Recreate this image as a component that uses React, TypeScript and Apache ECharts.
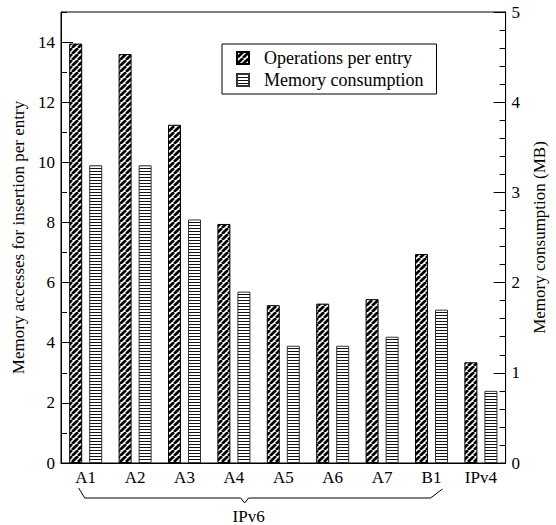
import React, { useEffect, useRef } from "react";
import * as echarts from "echarts";

const categories = ["A1", "A2", "A3", "A4", "A5", "A6", "A7", "B1", "IPv4"];
const operationsPerEntry = [13.95, 13.6, 11.25, 7.95, 5.25, 5.3, 5.45, 6.95, 3.35];
const memoryConsumptionMB = [3.3, 3.3, 2.7, 1.9, 1.3, 1.3, 1.4, 1.7, 0.8];
const groupLabel = "IPv6";
const groupFirst = "A1";
const groupLast = "B1";

const FONT = "'Liberation Serif', 'Times New Roman', Times, 'DejaVu Serif', serif";

function diagPattern(): HTMLCanvasElement {
  const c = document.createElement("canvas");
  const s = 6;
  c.width = s;
  c.height = s;
  const ctx = c.getContext("2d")!;
  ctx.fillStyle = "#fff";
  ctx.fillRect(0, 0, s, s);
  ctx.strokeStyle = "#000";
  ctx.lineWidth = 2.7;
  for (const o of [-s, 0, s]) {
    ctx.beginPath();
    ctx.moveTo(o, s);
    ctx.lineTo(o + s, 0);
    ctx.stroke();
  }
  return c;
}

function horizPattern(): HTMLCanvasElement {
  const c = document.createElement("canvas");
  c.width = 4;
  c.height = 3;
  const ctx = c.getContext("2d")!;
  ctx.fillStyle = "#fff";
  ctx.fillRect(0, 0, 4, 3);
  ctx.fillStyle = "#111";
  ctx.fillRect(0, 0, 4, 1);
  return c;
}

export default function App() {
  const ref = useRef<HTMLDivElement>(null);
  useEffect(() => {
    if (!ref.current) return;
    const chart = echarts.init(ref.current, undefined, { renderer: "svg" });
    const diag = { image: diagPattern(), repeat: "repeat" };
    const horiz = { image: horizPattern(), repeat: "repeat" };
    const lineStyle = { color: "#000", width: 1 };
    chart.setOption({
      animation: false,
      backgroundColor: "#fff",
      textStyle: { fontFamily: FONT },
      grid: {
        left: 61,
        right: 44,
        top: 12,
        bottom: 62,
        show: true,
        borderColor: "#000",
        borderWidth: 1,
        backgroundColor: "transparent",
      },
      legend: {
        orient: "vertical",
        left: 222,
        top: 44,
        borderColor: "#000",
        borderWidth: 1,
        padding: [5, 13, 5, 14],
        itemWidth: 12,
        itemHeight: 12,
        itemGap: 4,
        icon: "rect",
        textStyle: { fontFamily: FONT, fontSize: 18, color: "#000", padding: [0, 0, 0, 10] },
        data: ["Operations per entry", "Memory consumption"],
      },
      xAxis: {
        type: "category",
        data: categories,
        axisLine: { lineStyle },
        axisTick: { show: false },
        axisLabel: { color: "#000", fontSize: 17, fontFamily: FONT, margin: 6 },
      },
      yAxis: [
        {
          type: "value",
          position: "left",
          min: 0,
          max: 15,
          interval: 2,
          name: "Memory accesses for insertion per entry",
          nameLocation: "middle",
          nameGap: 33,
          nameTextStyle: { color: "#000", fontSize: 17, fontFamily: FONT },
          axisLine: { show: true, lineStyle },
          axisTick: { show: true, inside: true, length: 12, lineStyle },
          axisLabel: { color: "#000", fontSize: 17, fontFamily: FONT, margin: 6, showMaxLabel: false },
          splitLine: { show: false },
        },
        {
          type: "value",
          position: "right",
          min: 0,
          max: 5,
          interval: 1,
          name: "Memory consumption (MB)",
          nameLocation: "middle",
          nameGap: 22,
          nameRotate: 90,
          nameTextStyle: { color: "#000", fontSize: 17, fontFamily: FONT },
          axisLine: { show: true, lineStyle },
          axisTick: { show: true, inside: true, length: 12, lineStyle },
          minorTick: { show: true, splitNumber: 5, length: 6, lineStyle },
          axisLabel: { color: "#000", fontSize: 17, fontFamily: FONT, margin: 6 },
          splitLine: { show: false },
        },
        {
          type: "value",
          position: "left",
          min: 0,
          max: 15,
          interval: 1,
          axisLine: { show: false },
          axisTick: { show: true, inside: true, length: 6, lineStyle },
          axisLabel: { show: false },
          splitLine: { show: false },
        },
      ],
      series: [
        {
          name: "Operations per entry",
          type: "bar",
          yAxisIndex: 0,
          data: operationsPerEntry,
          barWidth: 13,
          barGap: "54%",
          itemStyle: { color: diag, borderColor: "#000", borderWidth: 1 },
        },
        {
          name: "Memory consumption",
          type: "bar",
          yAxisIndex: 1,
          data: memoryConsumptionMB,
          barWidth: 13,
          barGap: "54%",
          itemStyle: { color: horiz, borderColor: "#333", borderWidth: 1 },
        },
      ],
    });

    const x1 = chart.convertToPixel({ xAxisIndex: 0 }, groupFirst) as number;
    const x2 = chart.convertToPixel({ xAxisIndex: 0 }, groupLast) as number;
    const y0 = chart.convertToPixel({ yAxisIndex: 0 }, 0) as number;
    const yTop = y0 + 25;
    const yMid = y0 + 35;
    const tipX = (x1 + x2) / 2 - 14;
    chart.setOption({
      graphic: [
        {
          type: "polyline",
          shape: {
            points: [
              [x1 - 7, yTop],
              [x1 - 1, yMid],
              [tipX - 4, yMid],
              [tipX, yMid + 5],
              [tipX + 4, yMid],
              [x2 - 1, yMid],
              [x2 + 11, yTop + 1],
            ],
          },
          style: { stroke: "#000", lineWidth: 1, fill: null },
        },
        {
          type: "text",
          x: tipX + 4,
          y: yMid + 18,
          style: {
            text: groupLabel,
            fill: "#000",
            fontFamily: FONT,
            fontSize: 17,
            align: "center",
            verticalAlign: "middle",
          },
        },
      ],
    });
    return () => chart.dispose();
  }, []);
  return (
    <div
      ref={ref}
      style={{ position: "fixed", left: 0, top: 0, width: 556, height: 525 }}
    />
  );
}
